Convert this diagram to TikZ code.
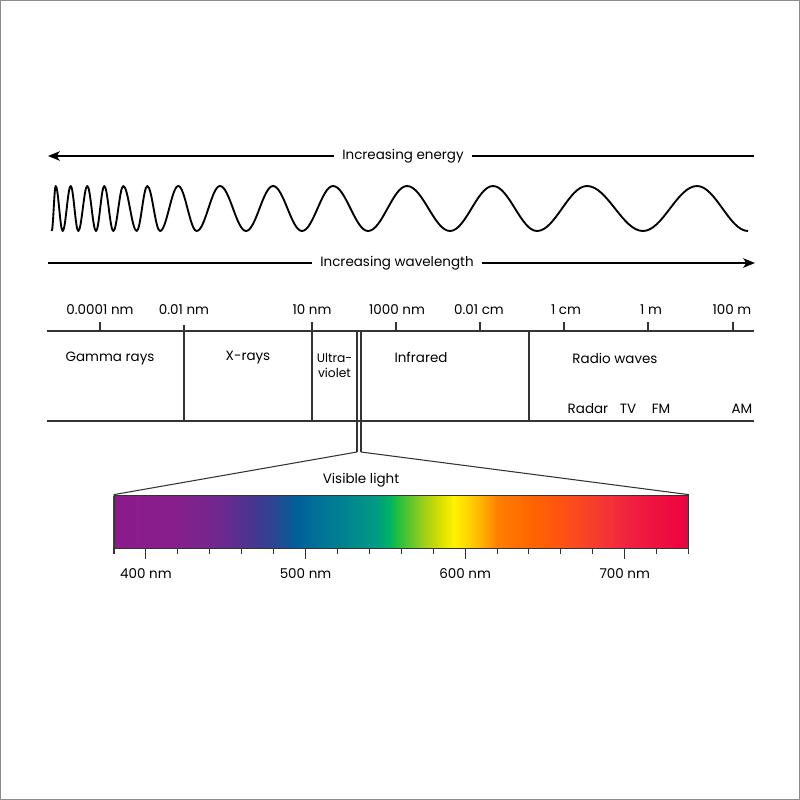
\documentclass[tikz,border=0pt]{standalone}
\usepackage{fontspec}
\setmainfont{Poppins}
\usetikzlibrary{arrows.meta}

% spectrum colours, named by wavelength
\definecolor{c380}{HTML}{8C1A8C}
\definecolor{c420}{HTML}{861F8C}
\definecolor{c445}{HTML}{70288E}
\definecolor{c465}{HTML}{4A3490}
\definecolor{c480}{HTML}{2C4592}
\definecolor{c495}{HTML}{00609A}
\definecolor{c505}{HTML}{006E98}
\definecolor{c525}{HTML}{008490}
\definecolor{c545}{HTML}{009C84}
\definecolor{c553}{HTML}{00B55E}
\definecolor{c558}{HTML}{22C040}
\definecolor{c572}{HTML}{90CC20}
\definecolor{c585}{HTML}{DCE000}
\definecolor{c593}{HTML}{FFF200}
\definecolor{c603}{HTML}{FFD000}
\definecolor{c612}{HTML}{FFA800}
\definecolor{c620}{HTML}{FF8000}
\definecolor{c640}{HTML}{FF6600}
\definecolor{c660}{HTML}{FF5312}
\definecolor{c684}{HTML}{F53A30}
\definecolor{c703}{HTML}{F02040}
\definecolor{c740}{HTML}{EE0040}

\begin{document}
\begin{tikzpicture}[x=0.03cm, y=-0.03cm,
    lbl/.style={font=\fontsize{11.5}{12.8}\selectfont, inner sep=1pt},
    gap/.style={lbl, inner xsep=7pt},
    arr/.style={-{Stealth[length=10pt, width=8pt, inset=2.5pt]}, line width=1.5pt},
    axis/.style={line width=0.9pt, black!80},
    wave/.style={line width=1.6pt, line join=round}
]
\useasboundingbox (0,0) rectangle (800,800);
\draw[black!45] (0.5,0.5) rectangle (799.5,799.5);

% arrows
\node[gap] (energy) at (403,156) {Increasing energy};
\coordinate (eL) at (48,156);
\coordinate (eR) at (754,156);
\draw[arr] (energy.west) -- (eL);
\draw[line width=1.5pt] (energy.east) -- (eR);

\node[gap] (wavelen) at (397,263) {Increasing wavelength};
\coordinate (wL) at (48,263);
\coordinate (wR) at (755,263);
\draw[line width=1.5pt] (wavelen.west) -- (wL);
\draw[arr] (wavelen.east) -- (wR);

% the wave
\draw[wave] (51.7,231) \foreach \m/\e/\y in {
    53.7/55.7/186, 59.2/62.7/231, 66.7/70.7/186, 74.5/78.3/231,
    82.8/87.3/186, 91.65/96/231, 100.15/104.3/186, 108.8/113.3/231,
    118.3/123.3/186, 130/136.7/231, 142/147.3/186, 153.65/160/231,
    169.15/178.3/186, 187.5/196.7/231, 208.35/220/186, 233/246/231,
    259.5/273/186, 287.5/302/231, 317.5/333/186, 350.5/368/231,
    387.5/407/186, 428.5/450/231, 471.5/493/186, 515/537/231,
    562/587/186, 615/643/231, 670/697/186, 722.5/748/231}
  { cos (\m,208.5) sin (\e,\y) };

% scale
\draw[axis] (47,331) -- (754,331);
\draw[axis] (47,421) -- (754,421);
\foreach \x in {100,396,480,564,648,733}
  \draw[axis] (\x,322) -- (\x,331);
\node[lbl] (s1) at (100,310) {0.0001 nm};
\node[lbl] (s2) at (184,310) {0.01 nm};
\node[lbl] (s3) at (312,310) {10 nm};
\node[lbl] (s4) at (397,310) {1000 nm};
\node[lbl] (s5) at (479,310) {0.01 cm};
\node[lbl] (s6) at (566,310) {1 cm};
\node[lbl] (s7) at (651,310) {1 m};
\node[lbl] (s8) at (732,310) {100 m};

\draw[axis] (184,325) -- (184,421);
\draw[axis] (312,322) -- (312,421);
\draw[axis] (529,331) -- (529,421);
\coordinate (vL) at (357,452);
\coordinate (vR) at (361,452);
\draw[axis] (357,331) -- (vL);
\draw[axis] (361,331) -- (vR);

\node[lbl] (gamma) at (110,358) {Gamma rays};
\node[lbl] (xray) at (248,358) {X-rays};
\node[lbl, font=\fontsize{10.5}{12.8}\selectfont, align=center] (uv) at (334.5,365.5) {Ultra-\\violet};
\node[lbl] (ir) at (421,357) {Infrared};
\node[lbl] (radio) at (615,358) {Radio waves};
\node[lbl] (radar) at (588,409) {Radar};
\node[lbl] (tv) at (628,409) {TV};
\node[lbl] (fm) at (661,409) {FM};
\node[lbl] (am) at (742,409) {AM};

% visible band
\foreach \a/\b in {380/420, 420/445, 445/465, 465/480, 480/495, 495/505,
    505/525, 525/545, 545/553, 553/558, 558/572, 572/585, 585/593, 593/603,
    603/612, 612/620, 620/640, 640/660, 660/684, 684/703, 703/740}
  \shade[left color=c\a, right color=c\b]
    ({114+(\a-380)*1.596-0.3},495) rectangle ({114+(\b-380)*1.596+0.3},548);
\node[draw=black!80, line width=0.6pt, minimum width=574.6*0.03cm, minimum height=53*0.03cm,
  inner sep=0pt] (band) at (401.3,521.5) {};
\draw[axis] (vL) -- (band.north west);
\draw[axis] (vR) -- (band.north east);
\node[lbl] (visible) at (361,480) {Visible light};

\foreach \l in {380,400,...,740}
  \draw[axis] ({114+(\l-380)*1.596},548) -- ++(0,6);
\foreach \l in {400,500,600,700} {
  \draw[axis] ({114+(\l-380)*1.596},548) -- ++(0,11);
  \node[lbl] (n\l) at ({114+(\l-380)*1.596},574) {\l\ nm};
}
\end{tikzpicture}
\end{document}
